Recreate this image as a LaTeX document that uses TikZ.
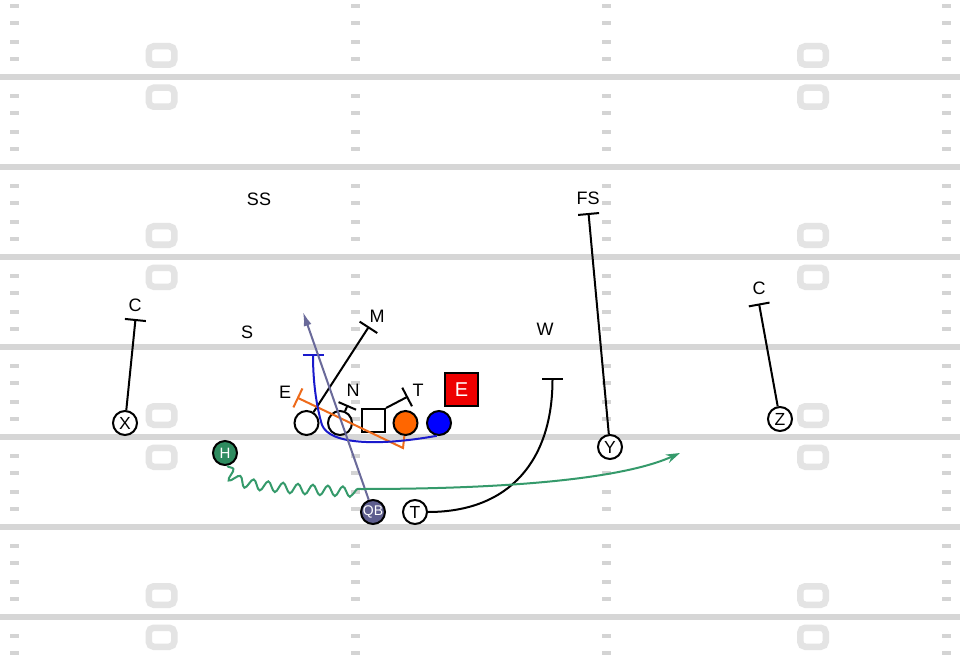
\documentclass[tikz,border=0pt]{standalone}
\usepackage{fontspec}
\setmainfont{Liberation Sans}
\usetikzlibrary{arrows.meta,decorations.pathmorphing}
\definecolor{fieldgray}{HTML}{D6D6D6}
\definecolor{hashgray}{HTML}{D4D4D4}
\definecolor{numgray}{HTML}{E4E4E4}
\definecolor{pgreen}{HTML}{2E8B5F}
\definecolor{lgreen}{HTML}{359A6B}
\definecolor{qbfill}{HTML}{5E5E8E}
\definecolor{qbline}{HTML}{6A6A9A}
\definecolor{porange}{HTML}{FF6600}
\definecolor{lorange}{HTML}{EE6A1A}
\definecolor{pblue}{HTML}{0000FF}
\definecolor{lblue}{HTML}{1A1ACC}
\definecolor{ered}{HTML}{EE0000}
\begin{document}
\begin{tikzpicture}[x=1pt,y=-1pt,
  player/.style={circle,draw=black,line width=2pt,fill=white,minimum size=24pt,inner sep=0pt,font=\fontsize{17.5}{17.5}\selectfont},
  deflabel/.style={font=\fontsize{18}{18}\selectfont,inner sep=0pt},
  route/.style={line width=2pt},
  tbar/.style={-{Bar[width=#1]}},
  tbar/.default=21pt,
  fieldline/.style={fieldgray,line width=6pt},
  yardnum/.style={numgray,line width=6.5pt,rounded corners=5pt}
]
\fill[white] (0,0) rectangle (960,660);
\useasboundingbox (0,0) rectangle (960,660);
% field lines
\foreach \L in {77,167,...,617} \draw[fieldline] (0,\L) -- (960,\L);
% hash marks
\foreach \xa/\xb in {10/19,351/360,602/611,942/951}
  \foreach \L in {-13,77,...,617}
    \foreach \d in {19,36,55,72}
      \fill[hashgray] (\xa,{\L+\d-2}) rectangle (\xb,{\L+\d+2});
% yard numbers
\foreach \L in {77,257,437,617}
  \foreach \cx in {161.5,813} {
    \draw[yardnum] ({\cx-12.75},{\L-30.75}) rectangle ({\cx+12.75},{\L-12.25});
    \draw[yardnum] ({\cx-12.75},{\L+10.75}) rectangle ({\cx+12.75},{\L+29.75});
  }
% players
\node[player] (X) at (125,423) {X};
\node[player] (O1) at (306.5,423) {};
\node[player] (O2) at (340,423) {};
\node[player,rectangle,minimum size=23pt] (Ctr) at (373.5,420.5) {};
\node[player,fill=porange] (OR) at (405.5,423) {};
\node[player,fill=pblue] (BL) at (439,423) {};
\node[player] (Y) at (610,447) {Y};
\node[player] (Z) at (780,419) {Z};
\node[player,fill=pgreen,text=white,font=\fontsize{15}{15}\selectfont] (H) at (225,453) {H};
\node[player,fill=qbfill,text=white,font=\fontsize{14}{14}\selectfont] (QB) at (373,512) {QB};
\node[player] (T) at (415,512) {T};
\node[draw=black,line width=1.5pt,fill=ered,minimum size=33pt,inner sep=0pt,text=white,font=\fontsize{20}{20}\selectfont] (ER) at (461.5,389.5) {E};
% defender labels
\node[deflabel] (SS) at (259,199) {SS};
\node[deflabel] (FS) at (588,198) {FS};
\node[deflabel] (CL) at (135,305) {C};
\node[deflabel] (S) at (247,332) {S};
\node[deflabel] (M) at (377,316) {M};
\node[deflabel] (W) at (545,329) {W};
\node[deflabel] (EL) at (285,392) {E};
\node[deflabel] (N) at (353,390) {N};
\node[deflabel] (TL) at (418,390) {T};
\node[deflabel] (CR) at (759,288) {C};
% route end points
\coordinate (cEndL) at (135.5,319);
\coordinate (mEnd) at (369,326.5);
\coordinate (nEnd) at (347.7,405);
\coordinate (tEnd) at (408,396.5);
\coordinate (wEnd) at (552.5,378);
\coordinate (fsEnd) at (588.5,213);
\coordinate (cEndR) at (759,303.5);
\coordinate (oBend) at (403,448);
\coordinate (oEnd) at (297,397.5);
\coordinate (bEnd) at (313,354);
\coordinate (qbEnd) at (303,312);
\coordinate (sqEnd) at (361,489);
\coordinate (gEnd) at (680,453);
% routes
\draw[route,tbar] (X) -- (cEndL);
\draw[route,tbar] (O1) -- (mEnd);
\draw[route,tbar=19pt] (O2.67) -- (nEnd);
\draw[route,tbar] (Ctr.north east) -- (tEnd);
\draw[route,tbar] (T.east) .. controls (510,512) and (552.5,460) .. (wEnd);
\draw[route,tbar] (Y) -- (fsEnd);
\draw[route,tbar] (Z) -- (cEndR);
\draw[route,lorange,tbar] (OR.-95) -- (oBend) -- (oEnd);
\draw[route,lblue,tbar] (BL.-100) .. controls (380,446) and (330,445) .. (322,425) .. controls (316,405) and (313,380) .. (bEnd);
\draw[route,qbline,-{Latex[length=14pt,width=8pt]}] (QB) -- (qbEnd);
\draw[route,lgreen,decorate,decoration={snake,amplitude=5pt,segment length=15pt}] (H.-80) .. controls (232,482) and (250,483) .. (sqEnd);
\draw[route,lgreen,-{Stealth[length=14pt,width=9pt]}] (sqEnd) .. controls (500,489) and (620,480) .. (gEnd);
\end{tikzpicture}
\end{document}
